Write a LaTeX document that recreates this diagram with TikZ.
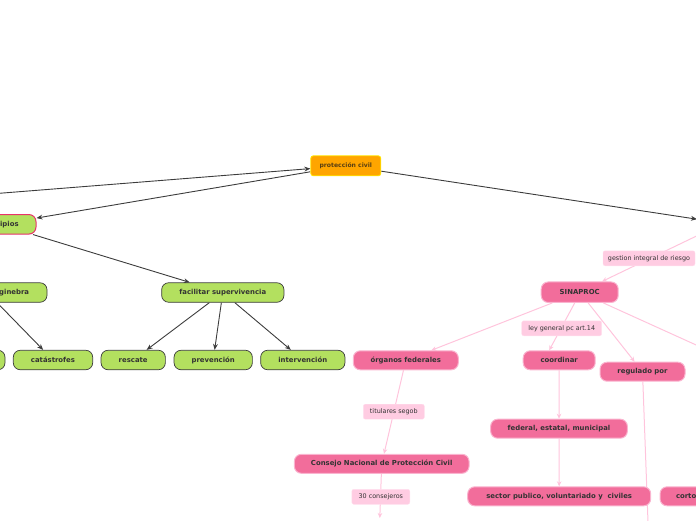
\documentclass[tikz,border=0pt]{standalone}
\usepackage{fontspec}
\setmainfont{DejaVu Sans}
\usetikzlibrary{arrows.meta,backgrounds}
\definecolor{gfill}{HTML}{B3E05F}
\definecolor{gline}{HTML}{3C3C3C}
\definecolor{txt}{HTML}{333333}
\definecolor{ofill}{HTML}{FFA500}
\definecolor{oline}{HTML}{FFE600}
\definecolor{otxt}{HTML}{5A4012}
\definecolor{pfill}{HTML}{F26D9B}
\definecolor{pbord}{HTML}{FAB4CF}
\definecolor{lfill}{HTML}{FFCCE2}
\definecolor{edgep}{HTML}{FFC4DC}
\definecolor{redb}{HTML}{E8336B}
\begin{document}
\begin{tikzpicture}[x=1pt,y=-1pt,
  nodefont/.style={font=\fontsize{6.9}{8}\selectfont\bfseries},
  gbox/.style={nodefont, draw=gline, fill=gfill, line width=0.7pt, rounded corners=7pt, text=txt, inner sep=0pt, minimum height=19.5pt},
  pbox/.style={nodefont, draw=pbord, fill=pfill, line width=1pt, rounded corners=7pt, text=txt, inner sep=0pt, minimum height=19pt},
  obox/.style={font=\fontsize{6.1}{7}\selectfont\bfseries, draw=oline, fill=ofill, line width=0.8pt, rounded corners=2.5pt, text=otxt, inner sep=0pt, minimum height=20pt},
  lbl/.style={font=\fontsize{6.4}{7.5}\selectfont, fill=lfill, draw=lfill!60!white, rounded corners=2pt, text=txt, inner sep=0pt, minimum height=15pt},
  darr/.style={draw=gline, line width=0.9pt, -{Stealth[length=6pt,width=4.8pt]}},
  parr/.style={draw=edgep, line width=1pt, -{Stealth[length=5pt,width=4.5pt]}},
  pedge/.style={draw=edgep, line width=1pt},
]
\useasboundingbox (0,0) rectangle (696,520);

% orange central node
\node[obox, minimum width=70pt] (pc) at (345.8,165.8) {protección civil};

% green nodes
\node[gbox, draw=redb, line width=1pt, minimum width=73pt] (pri) at (-0.5,224.3) {principios};
\node[gbox, minimum width=124pt] (gin) at (-15,292.5) {convención de ginebra};
\node[gbox, minimum width=122.3pt] (fac) at (222.8,292.5) {facilitar supervivencia};
\node[gbox, minimum width=70pt] (unk) at (-30,360) {};
\node[gbox, minimum width=79.4pt] (cat) at (53,360) {catástrofes};
\node[gbox, minimum width=64.3pt] (res) at (133.2,360) {rescate};
\node[gbox, minimum width=78.3pt] (pre) at (213.2,360) {prevención};
\node[gbox, minimum width=84.3pt] (int) at (302.8,360) {intervención};

% pink nodes
\node[pbox, minimum width=77pt, minimum height=20.5pt] (sin) at (579.7,292.2) {SINAPROC};
\node[pbox, minimum width=105pt] (org) at (405.8,360.3) {órganos federales};
\node[pbox, minimum width=72pt] (coo) at (559.2,360.3) {coordinar};
\node[pbox, minimum width=85pt] (reg) at (642.5,371.7) {regulado por};
\node[pbox, minimum width=136.7pt] (fed) at (559,428.7) {federal, estatal, municipal};
\node[pbox, minimum width=174.7pt] (cns) at (381.7,463.8) {Consejo Nacional de Protección Civil};
\node[pbox, minimum width=183pt] (sec) at (559.2,496.3) {sector publico, voluntariado y~ civiles};
\node[pbox, minimum width=75.4pt] (cor) at (697.7,496.3) {corto plazo};

% free ends of connectors
\coordinate (lft) at (-60,198);
\coordinate (rt) at (697,219.2);
\coordinate (rtb) at (709,230);
\coordinate (rtc) at (780,383);
\coordinate (cnsb) at (379.8,518);
\coordinate (regb) at (648.3,530);

\begin{scope}[on background layer]
\draw[darr] (lft) -- (pc);
\draw[darr] (pc) -- (pri);
\draw[darr] (pc) -- (rt);
\draw[darr] (pri) -- (fac);
\draw[darr] ([xshift=12pt]gin.south) -- (cat);
\draw[darr] (fac) -- (res);
\draw[darr] (fac) -- (pre);
\draw[darr] (fac) -- (int);
\draw[parr] (rtb) -- (sin);
\draw[pedge] (sin) -- (rtc);
\draw[parr] (sin) -- (org);
\draw[parr] ([xshift=-5pt]sin.south) -- ([xshift=-10pt]coo.north);
\draw[parr] (sin) -- (reg);
\draw[parr] (org) -- (cns);
\draw[parr] (cns) -- (cnsb);
\draw[parr] (coo) -- (fed);
\draw[parr] (fed) -- (sec);
\draw[pedge] (reg) -- (regb);
\end{scope}

% connector labels
\node[lbl, minimum width=92pt] (l1) at (649,258.3) {gestion integral de riesgo};
\node[lbl, minimum width=80pt] (l2) at (561.7,328.3) {ley general pc art.14};
\node[lbl, minimum width=61pt] (l3) at (393.8,411.7) {titulares segob};
\node[lbl, minimum width=58pt] (l4) at (380.8,496.8) {30 consejeros};
\end{tikzpicture}
\end{document}
